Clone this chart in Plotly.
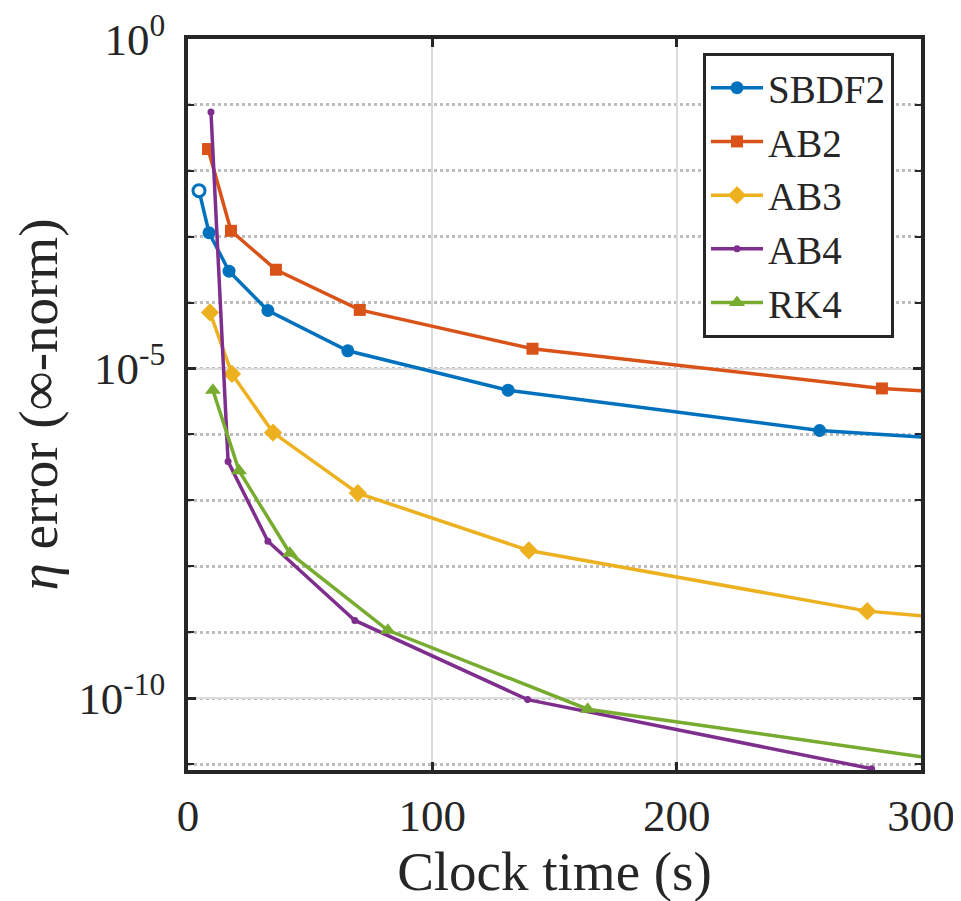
import plotly.graph_objects as go

# Clock time (s) and eta error (inf-norm) for each scheme
sbdf2_x = [4.5, 8.6, 16.8, 32.7, 65.4, 131, 258.5, 517]
sbdf2_y = [5.0e-3, 1.15e-3, 3.0e-4, 7.6e-5, 1.86e-5, 4.7e-6, 1.15e-6, 2.8e-7]

ab2_x = [8.2, 17.6, 36, 70.3, 141, 284, 568]
ab2_y = [2.14e-2, 1.23e-3, 3.16e-4, 7.76e-5, 2.0e-5, 5.0e-6, 1.26e-6]

ab3_x = [9, 18, 34.8, 69.5, 139.5, 278, 556]
ab3_y = [7.1e-5, 8.3e-6, 1.07e-6, 1.29e-7, 1.74e-8, 2.09e-9, 2.82e-10]

ab4_x = [9.4, 16.4, 32.7, 68.3, 139, 279.8]
ab4_y = [7.8e-2, 3.9e-7, 2.4e-8, 1.51e-9, 9.5e-11, 8.5e-12]

rk4_x = [10.2, 20.9, 41.7, 81.8, 163.6, 327]
rk4_y = [4.7e-6, 2.82e-7, 1.58e-8, 1.07e-9, 6.8e-11, 9.3e-12]

x_ticks = [0, 100, 200, 300]
y_ticks = [1e0, 1e-5, 1e-10]
y_ticktext = ["10<sup>0</sup>", "10<sup>-5</sup>", "10<sup>-10</sup>"]
y_minor = [10.0 ** (-k) for k in range(0, 12)]

FONT = "Liberation Serif"
INK = "#262626"

series = [
    ("SBDF2", sbdf2_x, sbdf2_y, "#0072BD", "circle", 13),
    ("AB2", ab2_x, ab2_y, "#D95319", "square", 12),
    ("AB3", ab3_x, ab3_y, "#EDB120", "diamond", 14),
    ("AB4", ab4_x, ab4_y, "#7E2F8E", "circle", 7),
    ("RK4", rk4_x, rk4_y, "#77AC30", "triangle-up", 14),
]

fig = go.Figure()
for name, xs, ys, col, sym, sz in series:
    fig.add_trace(go.Scatter(
        x=xs, y=ys, name=name, mode="lines+markers",
        line=dict(color=col, width=3.5),
        marker=dict(symbol=sym, size=sz, color=col, line=dict(width=0)),
    ))

# first SBDF2 marker appears hollow in the reference
fig.add_trace(go.Scatter(
    x=sbdf2_x[:1], y=sbdf2_y[:1], mode="markers", showlegend=False,
    marker=dict(symbol="circle", size=12, color="white",
                line=dict(color="#0072BD", width=3)),
))

fig.update_layout(
    width=961, height=901,
    margin=dict(l=180, r=48, t=31, b=139, autoexpand=False),
    paper_bgcolor="white", plot_bgcolor="white",
    font=dict(family=FONT, color=INK, size=45),
    showlegend=True,
    legend=dict(
        x=0.7026, y=0.981, xanchor="left", yanchor="top",
        bgcolor="white", bordercolor=INK, borderwidth=3,
        font=dict(size=39, family=FONT, color=INK),
        itemwidth=52, tracegroupgap=0,
    ),
)

fig.update_xaxes(
    range=[0, 300], tickvals=x_ticks, automargin=False,
    showline=True, linecolor=INK, linewidth=3.5, mirror="allticks",
    ticks="inside", ticklen=8, tickwidth=3, tickcolor=INK,
    showgrid=True, gridcolor="#dcdcdc", gridwidth=2,
    zeroline=False,
    tickfont=dict(size=45, family=FONT, color=INK),
    ticklabelstandoff=3, ticklabeloverflow="allow",
    title=dict(text="Clock time (s)", font=dict(size=55, family=FONT, color=INK), standoff=0),
)

fig.update_yaxes(
    type="log", range=[-11.09, 0], automargin=False,
    tickvals=y_ticks, ticktext=y_ticktext,
    showline=True, linecolor=INK, linewidth=3.5, mirror="allticks",
    ticks="inside", ticklen=8, tickwidth=3, tickcolor=INK,
    showgrid=True, gridcolor="#dcdcdc", gridwidth=2,
    zeroline=False,
    tickfont=dict(size=45, family=FONT, color=INK),
    ticklabelstandoff=10, ticklabeloverflow="allow",
    minor=dict(tickvals=y_minor, ticks="inside", ticklen=6, tickwidth=2,
               tickcolor=INK, showgrid=True, gridcolor="#bdbdbd",
               griddash="dot", gridwidth=2.5),
    title=dict(text="<i>η</i> error (∞-norm)", font=dict(size=55, family=FONT, color=INK), standoff=10),
)

fig.write_html("out.html")
